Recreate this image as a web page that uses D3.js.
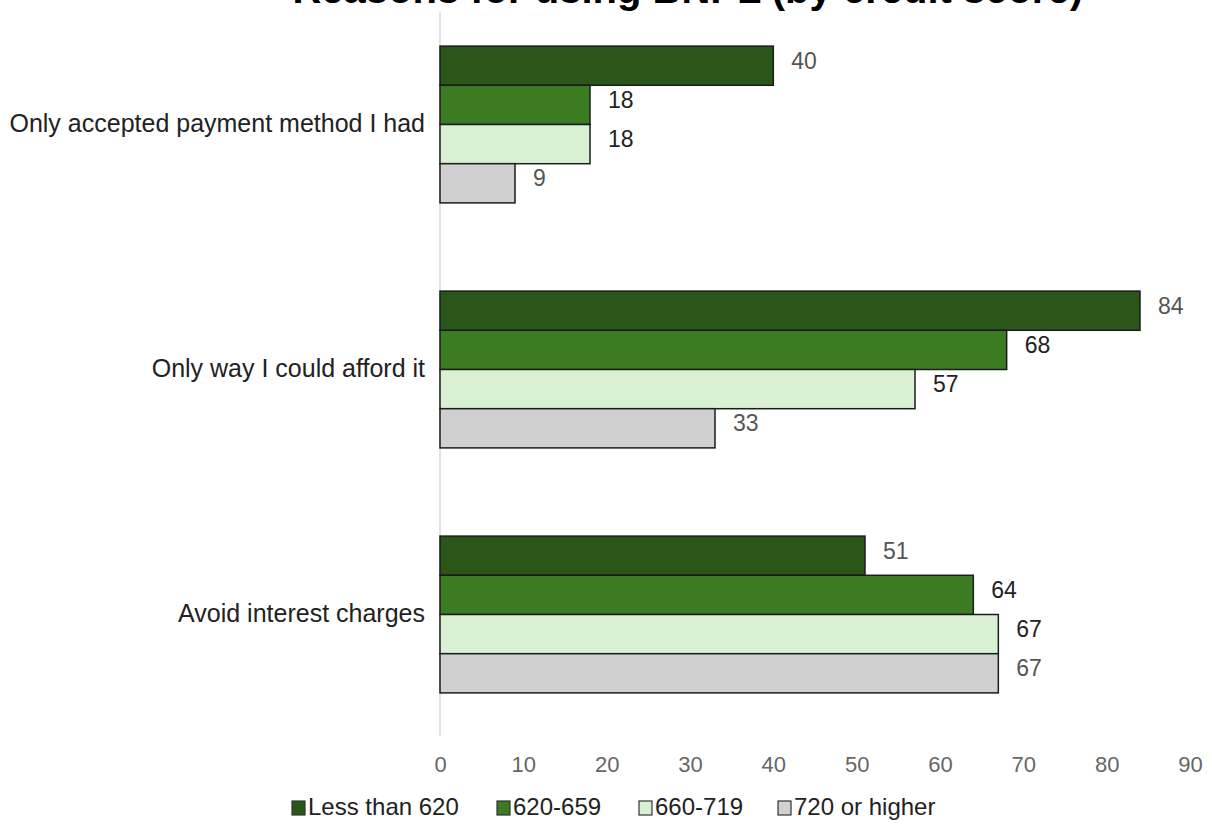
<!DOCTYPE html>
<html><head><meta charset="utf-8">
<script src="https://cdn.jsdelivr.net/npm/d3@7"></script>
<style>body{margin:0;background:#fff;} svg{display:block;}</style>
</head><body>
<svg id="chart" width="1212" height="833"></svg>
<script>
const title = "Reasons for using BNPL (by credit score)";
const categories = ["Only accepted payment method I had", "Only way I could afford it", "Avoid interest charges"];
const seriesNames = ["Less than 620", "620-659", "660-719", "720 or higher"];
const lessThan620 = [40, 84, 51];
const s620_659 = [18, 68, 64];
const s660_719 = [18, 57, 67];
const s720plus = [9, 33, 67];
const xTicks = [0, 10, 20, 30, 40, 50, 60, 70, 80, 90];

const seriesValues = [lessThan620, s620_659, s660_719, s720plus];
const colors = ["#2a5619", "#3b7c23", "#d9f1d2", "#d0d0d0"];
const labelColors = ["#555", "#222", "#222", "#555"];

const svg = d3.select("#chart");
const font = "'Liberation Sans', Arial, sans-serif";

const x = d3.scaleLinear().domain([0, 90]).range([440, 1190]);
const y = d3.scaleBand().domain(categories).range([2, 737]).paddingInner(0.36).paddingOuter(0.18);
const ys = d3.scaleBand().domain(d3.range(seriesNames.length)).range([0, y.bandwidth()]);

// title (partially cut at top)
svg.append("text").attr("x", 1083).attr("y", 3).attr("text-anchor", "end")
  .attr("font-family", font).attr("font-weight", "bold").attr("font-size", 40).attr("fill", "#000")
  .text(title);

// axis line
svg.append("line").attr("x1", x(0)).attr("x2", x(0)).attr("y1", 12).attr("y2", 736)
  .attr("stroke", "#d9d9d9").attr("stroke-width", 1.5);

// bars
categories.forEach((c, i) => {
  seriesValues.forEach((vals, s) => {
    const v = vals[i];
    const y0 = y(c) + ys(s);
    svg.append("rect").attr("x", x(0)).attr("y", y0).attr("width", x(v) - x(0)).attr("height", ys.bandwidth())
      .attr("fill", colors[s]).attr("stroke", "#1c1c1c").attr("stroke-width", 1.5);
    svg.append("text").attr("x", x(v) + 18).attr("y", y0 + ys.bandwidth() / 2 - 3)
      .attr("dominant-baseline", "middle").attr("font-family", font).attr("font-size", 23)
      .attr("fill", labelColors[s]).text(v);
  });
  svg.append("text").attr("x", 425).attr("y", y(c) + y.bandwidth() / 2 + 1)
    .attr("text-anchor", "end").attr("dominant-baseline", "middle")
    .attr("font-family", font).attr("font-size", 25).attr("fill", "#222").text(c);
});

// x axis tick labels
const ax = svg.append("g").attr("transform", "translate(0,756)")
  .call(d3.axisBottom(x).tickValues(xTicks).tickSize(0).tickPadding(0));
ax.select(".domain").remove();
ax.selectAll("text").attr("font-family", font).attr("font-size", 22).attr("fill", "#666");

// legend
const legendX = [292, 497, 639, 778];
const lg = svg.append("g");
seriesNames.forEach((n, s) => {
  lg.append("rect").attr("x", legendX[s]).attr("y", 801).attr("width", 13).attr("height", 14)
    .attr("fill", colors[s]).attr("stroke", "#333").attr("stroke-width", 1.2);
  lg.append("text").attr("x", legendX[s] + 16).attr("y", 809).attr("dominant-baseline", "middle")
    .attr("font-family", font).attr("font-size", 24).attr("fill", "#222").text(n);
});
</script>
</body></html>
